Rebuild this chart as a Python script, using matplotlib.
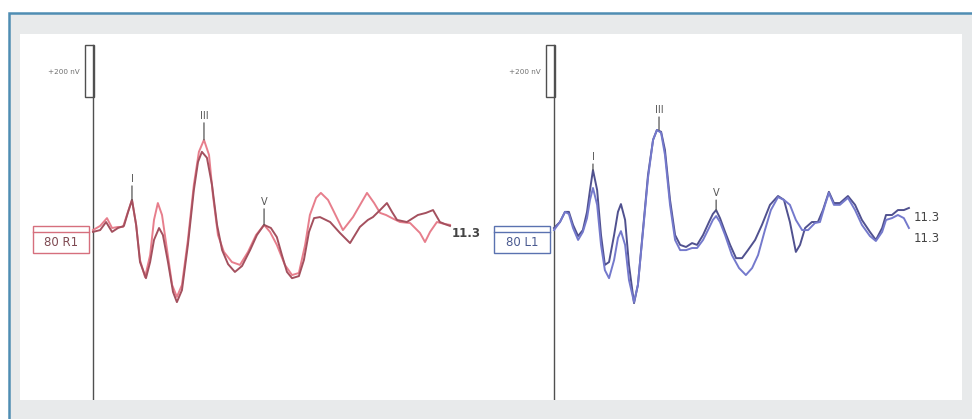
import matplotlib
matplotlib.use("Agg")
import matplotlib.pyplot as plt
from matplotlib.patches import Rectangle

# ---- ABR waveforms: time (ms) and amplitude (nV) ----
# right ear (R1), two repeated recordings
right_t1 = [0.00, 0.24, 0.47, 0.64, 0.84, 1.01, 1.14, 1.31, 1.45, 1.58, 1.75, 1.92, 2.05, 2.18,
            2.32, 2.49, 2.66, 2.82, 2.99, 3.19, 3.39, 3.56, 3.73, 3.90, 4.03, 4.20, 4.40, 4.67,
            4.94, 5.21, 5.48, 5.75, 5.95, 6.18, 6.45, 6.69, 6.92, 7.13, 7.29, 7.50, 7.66, 7.90,
            8.07, 8.40, 8.74, 9.21, 9.45, 9.65, 9.85, 10.05, 10.32, 10.66, 10.99, 11.16, 11.33,
            11.56, 11.83, 12.00]
right_a1 = [-8, 8, 38, 0, 4, 4, 50, 108, 12, -123, -189, -104, 31, 96,
            50, -85, -219, -265, -219, -46, 166, 293, 339, 281, 127, -27, -92, -131,
            -142, -92, -27, 12, -15, -65, -142, -181, -173, -65, 50, 116, 135, 108,
            69, -8, 42, 135, 96, 58, 50, 38, 23, 19, -19, -54, -15,
            23, 15, 12]

right_t2 = [0.00, 0.24, 0.44, 0.64, 0.84, 1.04, 1.18, 1.31, 1.45, 1.58, 1.78, 1.92, 2.05, 2.22,
            2.35, 2.52, 2.69, 2.82, 2.99, 3.19, 3.39, 3.53, 3.66, 3.83, 4.00, 4.17, 4.34, 4.54,
            4.77, 5.01, 5.28, 5.51, 5.75, 5.98, 6.18, 6.35, 6.52, 6.69, 6.92, 7.09, 7.26, 7.43,
            7.63, 7.97, 8.30, 8.64, 8.97, 9.24, 9.41, 9.65, 9.88, 10.05, 10.22, 10.55, 10.92,
            11.19, 11.43, 11.66, 11.83, 12.00]
right_a2 = [-15, -8, 23, -15, 0, 8, 62, 108, 12, -131, -193, -131, -46, 0,
            -27, -131, -246, -285, -239, -65, 146, 254, 293, 270, 166, 12, -85, -139,
            -169, -146, -85, -27, 12, 0, -35, -104, -169, -193, -185, -123, -15, 38,
            42, 23, -19, -58, 4, 31, 42, 69, 96, 62, 31, 23, 50,
            58, 69, 23, 15, 8]

# left ear (L1), two repeated recordings
left_t1 = [0.00, 0.20, 0.37, 0.50, 0.64, 0.81, 0.97, 1.11, 1.21, 1.31, 1.45, 1.58, 1.71, 1.85,
           2.02, 2.15, 2.25, 2.39, 2.52, 2.69, 2.82, 2.99, 3.16, 3.33, 3.46, 3.60, 3.73, 3.90,
           4.07, 4.24, 4.44, 4.64, 4.81, 5.01, 5.21, 5.34, 5.45, 5.58, 5.75, 5.92, 6.12, 6.32,
           6.52, 6.76, 6.99, 7.26, 7.53, 7.73, 7.93, 8.13, 8.27, 8.44, 8.67, 8.87, 9.04, 9.24,
           9.41, 9.61, 9.88, 10.12, 10.35, 10.62, 10.82, 11.03, 11.16, 11.36, 11.56, 11.76, 11.93]
left_a1 = [0, 23, 62, 62, 12, -31, -8, 62, 146, 223, 146, -27, -142, -131,
           -27, 62, 92, 31, -142, -289, -219, -8, 204, 339, 377, 370, 300, 108,
           -27, -65, -73, -58, -65, -27, 23, 54, 69, 38, -15, -65, -116, -116,
           -85, -46, 12, 89, 123, 108, 23, -92, -65, 0, 23, 23, 69, 139,
           96, 96, 123, 89, 31, -15, -46, 0, 50, 50, 69, 69, 77]

left_t2 = [0.00, 0.20, 0.37, 0.50, 0.64, 0.81, 0.97, 1.11, 1.21, 1.31, 1.45, 1.58, 1.71, 1.85,
           2.02, 2.15, 2.25, 2.39, 2.52, 2.69, 2.82, 2.99, 3.16, 3.33, 3.46, 3.60, 3.73, 3.90,
           4.07, 4.24, 4.44, 4.64, 4.81, 5.01, 5.21, 5.34, 5.45, 5.58, 5.75, 5.98, 6.22, 6.45,
           6.66, 6.86, 7.09, 7.29, 7.53, 7.73, 7.93, 8.13, 8.34, 8.54, 8.77, 8.94, 9.11, 9.24,
           9.41, 9.61, 9.88, 10.12, 10.35, 10.62, 10.82, 11.03, 11.16, 11.36, 11.56, 11.76, 11.93]
left_a2 = [-8, 23, 62, 54, 0, -46, -15, 38, 108, 154, 89, -65, -162, -193,
           -123, -38, -12, -65, -200, -285, -219, -15, 193, 339, 377, 366, 281, 89,
           -46, -85, -85, -77, -77, -46, 0, 31, 46, 23, -27, -104, -154, -181,
           -154, -104, -8, 69, 119, 108, 89, 31, -8, -8, 19, 23, 89, 135,
           89, 89, 116, 69, 12, -31, -50, -15, 31, 38, 50, 38, 0]

# Peak markers: (label, latency ms, amplitude nV, label offset px)
right_peaks = [("I", 1.31, 108, 11), ("III", 3.73, 339, 14), ("V", 5.75, 12, 13)]
left_peaks = [("I", 1.31, 223, 3), ("III", 3.53, 377, 10), ("V", 5.45, 69, 7)]

sweep_label = "11.3"
right_channel = "80 R1"
left_channel = "80 L1"
scale_nv = 200

W, H = 972, 419
fig = plt.figure(figsize=(W / 100, H / 100), dpi=100, facecolor="white")

PX_MS = 29.75          # pixels per millisecond
PX_NV = 1 / 3.846      # pixels per nanovolt
ZERO_Y = 228
TOP, BOT = 34, 400
PANEL_X0, PANEL_X1 = 20, 962

# frame, grey surround and white plotting sheet
fig.patches.append(Rectangle((9 / W, -0.05), 1.1, (H - 13) / H + 0.05, transform=fig.transFigure,
                             facecolor="#e8eaeb", edgecolor="#4f8db3", lw=1.8, zorder=-3))
fig.patches.append(Rectangle((PANEL_X0 / W, (H - BOT) / H), (PANEL_X1 - PANEL_X0) / W,
                             (BOT - TOP) / H, transform=fig.transFigure,
                             facecolor="white", edgecolor="none", zorder=-2))


def make_axes(x0, x1, axis_px):
    ax = fig.add_axes([x0 / W, (H - BOT) / H, (x1 - x0) / W, (BOT - TOP) / H])
    ax.set_xlim((x0 - axis_px) / PX_MS, (x1 - axis_px) / PX_MS)
    ax.set_ylim(-(BOT - ZERO_Y) / PX_NV, (ZERO_Y - TOP) / PX_NV)
    ax.axis("off")
    return ax


def draw_panel(ax, traces, colors, peaks, channel, box_color, text_color, end_labels):
    y0, y1 = ax.get_ylim()
    top_bar = 704
    # time-zero axis and amplitude calibration bar
    ax.plot([0, 0], [y0, top_bar], color="#505050", lw=1.0, zorder=2)
    ax.add_patch(Rectangle((-0.28, top_bar - scale_nv), 0.32, scale_nv, facecolor="none",
                           edgecolor="#505050", lw=1.0, zorder=2))
    ax.text(-0.45, 600, "+%d nV" % scale_nv, fontsize=5.2,
            color="#707070", ha="right", va="center")
    for (t, a), c in zip(traces, colors):
        ax.plot(t, a, color=c, lw=1.4, solid_joinstyle="round", zorder=3)
    for lab, t, a, off in peaks:
        ax.annotate(lab, xy=(t, a), xytext=(0, off + 5), textcoords="offset pixels",
                    ha="center", va="bottom", fontsize=7, color="#555555", zorder=4)
        ax.annotate("", xy=(t, a), xytext=(0, off + 3), textcoords="offset pixels",
                    arrowprops=dict(arrowstyle="-", color="#555555", lw=0.9, shrinkA=0, shrinkB=0))
    # channel label box
    bx0, bx1 = -2.03, -0.12
    ax.add_patch(Rectangle((bx0, -96), bx1 - bx0, 104, facecolor="white", edgecolor=box_color,
                           lw=1.0, zorder=4, clip_on=False))
    ax.plot([bx0, bx1], [-14, -14], color=box_color, lw=1.0, zorder=5)
    ax.text((bx0 + bx1) / 2, -55, channel, fontsize=8.5, color=text_color, ha="center",
            va="center", zorder=6)
    for x, y, fw in end_labels:
        ax.text(x, y, sweep_label, fontsize=8.5, color="#444444", ha="left", va="center",
                fontweight=fw, zorder=6)


axL = make_axes(PANEL_X0, 488, 93)
draw_panel(axL, [(right_t1, right_a1), (right_t2, right_a2)], ["#e77e8c", "#a4505e"],
           right_peaks, right_channel, "#d66f7d", "#7f4a52", [(12.05, -20, "bold")])

axR = make_axes(488, PANEL_X1, 554)
draw_panel(axR, [(left_t1, left_a1), (left_t2, left_a2)], ["#50518f", "#7479cc"],
           left_peaks, left_channel, "#5a72b0", "#4a5a90",
           [(12.08, 40, "normal"), (12.08, -40, "normal")])

fig.savefig("out.png", dpi=100, facecolor="white")
